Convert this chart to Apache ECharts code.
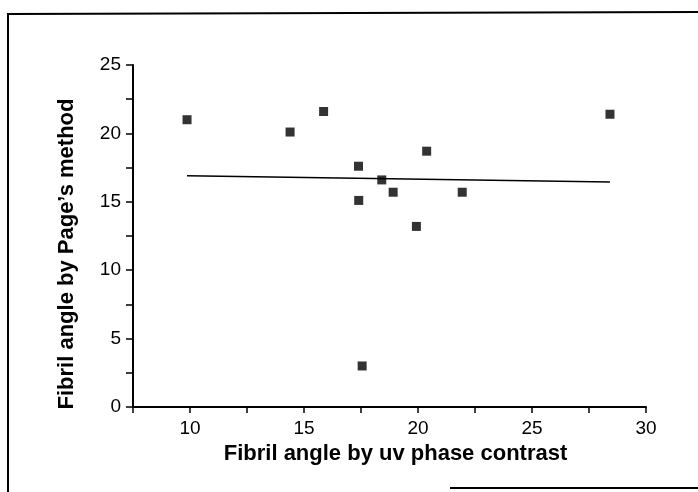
<!DOCTYPE html>
<html>
<head>
<meta charset="utf-8">
<script src="https://cdn.jsdelivr.net/npm/echarts@6/dist/echarts.min.js"></script>
<style>html,body{margin:0;padding:0;background:#fff}#c{width:698px;height:492px}</style>
</head>
<body>
<div id="c"></div>
<script>
// Data
var uvPhaseContrast = [9.87, 14.39, 15.86, 17.39, 17.40, 18.41, 18.91, 19.93, 20.38, 21.94, 28.42, 17.55];
var pageMethod      = [21.0, 20.1, 21.6, 17.6, 15.1, 16.6, 15.7, 13.2, 18.7, 15.7, 21.4, 3.0];
var fitX = [9.87, 28.42];
var fitY = [16.9, 16.45];
var xTicks = [10, 15, 20, 25, 30];
var yTicks = [0, 5, 10, 15, 20, 25];
var xTitle = 'Fibril angle by uv phase contrast';
var yTitle = "Fibril angle by Page\u2019s method";

var pts = uvPhaseContrast.map(function (x, i) { return [x, pageMethod[i]]; });
var fit = fitX.map(function (x, i) { return [x, fitY[i]]; });

var numFont = "'Liberation Sans', Arial, sans-serif";
var boldFont = "'Liberation Sans', Arial, sans-serif";

var chart = echarts.init(document.getElementById('c'), null, {renderer: 'canvas'});
chart.setOption({
  animation: false,
  backgroundColor: '#fff',
  grid: {left: 133, right: 52, top: 65, bottom: 85, containLabel: false},
  xAxis: {
    type: 'value', min: 7.5, max: 30, interval: 2.5,
    name: xTitle, nameLocation: 'middle', nameGap: 36,
    nameTextStyle: {color: '#000', fontFamily: boldFont, fontWeight: 'bold', fontSize: 22, padding: [0, 0, 0, 12]},
    axisLine: {show: true, onZero: false, lineStyle: {color: '#000', width: 2}},
    axisTick: {show: true, length: 6, lineStyle: {color: '#000', width: 1.5}},
    axisLabel: {color: '#000', fontFamily: numFont, fontSize: 19, margin: 12,
      formatter: function (v) { return xTicks.indexOf(v) >= 0 ? String(v) : ''; }},
    splitLine: {show: false}
  },
  yAxis: {
    type: 'value', min: 0, max: 25, interval: 2.5,
    name: yTitle, nameLocation: 'middle', nameGap: 55,
    nameTextStyle: {color: '#000', fontFamily: boldFont, fontWeight: 'bold', fontSize: 22, padding: [0, 36, 0, 0]},
    axisLine: {show: true, onZero: false, lineStyle: {color: '#000', width: 2}},
    axisTick: {show: true, length: 7, lineStyle: {color: '#000', width: 1.5}},
    axisLabel: {color: '#000', fontFamily: numFont, fontSize: 19, margin: 12,
      formatter: function (v) { return yTicks.indexOf(v) >= 0 ? String(v) : ''; }},
    splitLine: {show: false}
  },
  graphic: [
    {type: 'polyline', shape: {points: [[8, 492], [8, 14], [698, 12]]}, style: {stroke: '#000', lineWidth: 2, fill: null}},
    {type: 'line', shape: {x1: 450, y1: 488, x2: 698, y2: 488}, style: {stroke: '#000', lineWidth: 2}}
  ],
  series: [
    {type: 'line', data: fit, symbol: 'none', lineStyle: {color: '#000', width: 1.5}, z: 2},
    {type: 'scatter', data: pts, symbol: 'rect', symbolSize: 9, itemStyle: {color: '#000'}, z: 3}
  ]
});
</script>
</body>
</html>
